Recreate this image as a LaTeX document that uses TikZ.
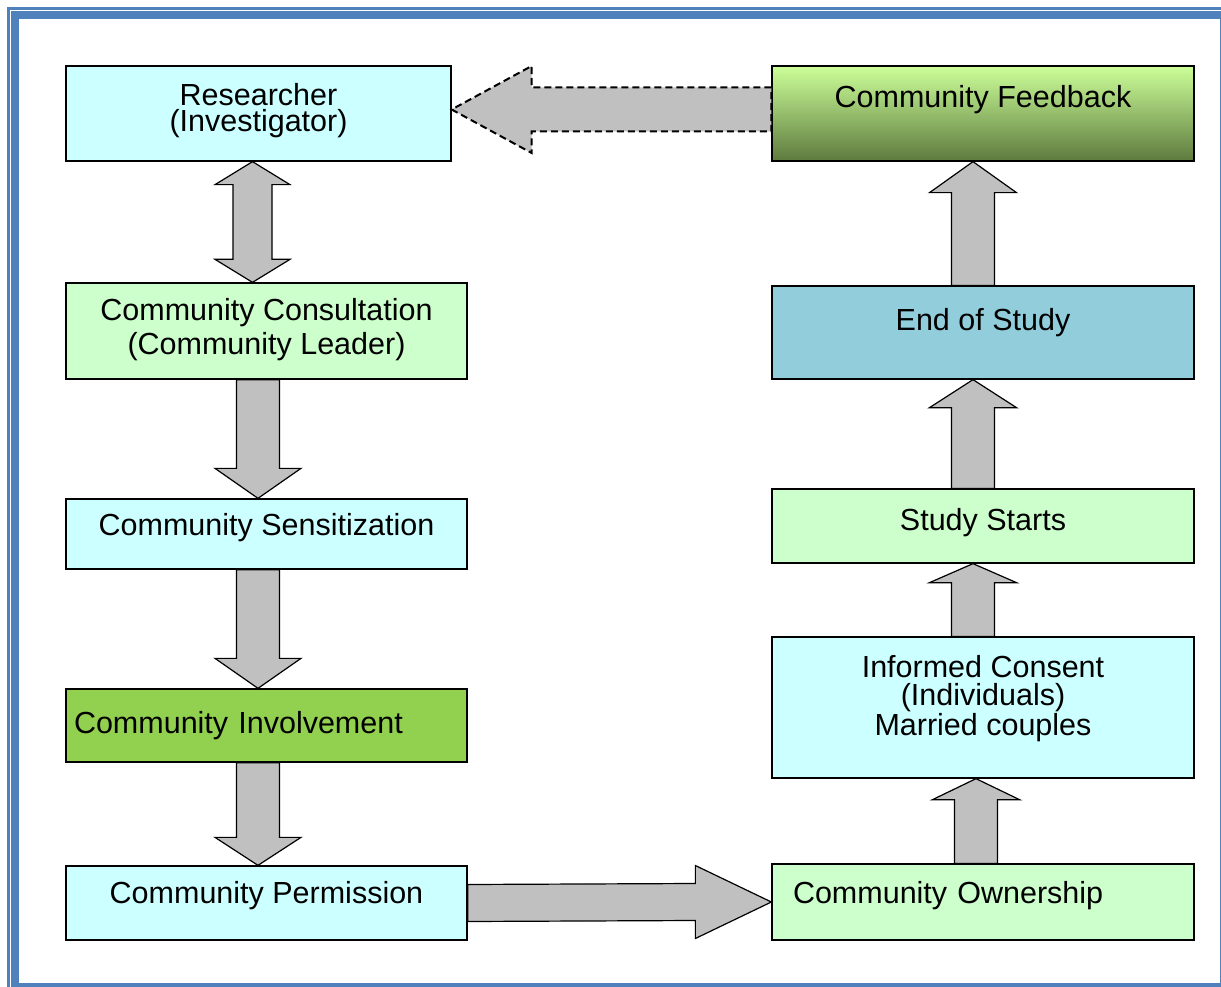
\documentclass[tikz,border=0pt]{standalone}
\usepackage{fontspec}
\setmainfont{Liberation Sans}
\usetikzlibrary{calc}

\definecolor{framecol}{HTML}{4F81BD}
\definecolor{boxcyan}{HTML}{CCFFFF}
\definecolor{boxgreen}{HTML}{CCFFCC}
\definecolor{boxleaf}{HTML}{92D050}
\definecolor{boxteal}{HTML}{92CDDC}
\definecolor{fbtop}{HTML}{CCFF99}
\definecolor{fbbot}{HTML}{5E7A3E}
\definecolor{arrowgray}{HTML}{C0C0C0}

\tikzset{
  box/.style={shape=rectangle,draw=black,line width=1.3pt,inner sep=0pt,align=center,
    font=\fontsize{30.5}{28}\selectfont},
  blockarrow/.style={draw=black,fill=arrowgray,line width=1.2pt,line join=miter},
  arrowdown/.style={blockarrow,to path={
    ($(\tikztostart)+(-21.5,0)$) -- ($(\tikztotarget)+(-21.5,-#1)$) -- ($(\tikztotarget)+(-43,-#1)$)
    -- (\tikztotarget) -- ($(\tikztotarget)+(43,-#1)$) -- ($(\tikztotarget)+(21.5,-#1)$)
    -- ($(\tikztostart)+(21.5,0)$) -- cycle}},
  arrowup/.style={blockarrow,to path={
    ($(\tikztostart)+(-21.5,0)$) -- ($(\tikztotarget)+(-21.5,#1)$) -- ($(\tikztotarget)+(-43.5,#1)$)
    -- (\tikztotarget) -- ($(\tikztotarget)+(43.5,#1)$) -- ($(\tikztotarget)+(21.5,#1)$)
    -- ($(\tikztostart)+(21.5,0)$) -- cycle}},
  arrowboth/.style={blockarrow,to path={
    (\tikztostart) -- ($(\tikztostart)+(37.5,#1)$) -- ($(\tikztostart)+(19.5,#1)$)
    -- ($(\tikztotarget)+(19.5,-#1)$) -- ($(\tikztotarget)+(37.5,-#1)$) -- (\tikztotarget)
    -- ($(\tikztotarget)+(-37.5,-#1)$) -- ($(\tikztotarget)+(-19.5,-#1)$)
    -- ($(\tikztostart)+(-19.5,#1)$) -- ($(\tikztostart)+(-37.5,#1)$) -- cycle}},
  arrowright/.style={blockarrow,to path={
    ($(\tikztostart)+(0,-18.5)$) -- ($(\tikztotarget)+(-#1,-18.5)$) -- ($(\tikztotarget)+(-#1,-36.5)$)
    -- (\tikztotarget) -- ($(\tikztotarget)+(-#1,36.5)$) -- ($(\tikztotarget)+(-#1,18.5)$)
    -- ($(\tikztostart)+(0,18.5)$) -- cycle}},
  arrowleft/.style={blockarrow,to path={
    ($(\tikztostart)+(0,-22)$) -- ($(\tikztotarget)+(#1,-22)$) -- ($(\tikztotarget)+(#1,-43.5)$)
    -- (\tikztotarget) -- ($(\tikztotarget)+(#1,43.5)$) -- ($(\tikztotarget)+(#1,22)$)
    -- ($(\tikztostart)+(0,22)$) -- cycle}}
}

\begin{document}
\begin{tikzpicture}[x=1pt,y=-1pt]
\useasboundingbox (0,0) rectangle (1221,987);
\fill[white] (0,0) rectangle (1221,987);
\draw[framecol,line width=3pt] (8.5,8.5) rectangle (1240,1000);
\draw[framecol,line width=8pt] (15,15) rectangle (1224,987);

\node[box,fill=boxcyan,minimum width=385,minimum height=95,text depth=13pt] (res) at (258.5,113.5) {Researcher\\[-2pt](Investigator)};
\node[box,fill=boxgreen,minimum width=401,minimum height=96,text depth=9.5pt] (cons) at (266.5,331) {Community Consultation\\[4pt](Community Leader)};
\node[box,fill=boxcyan,minimum width=401,minimum height=70,text depth=18.5pt] (sens) at (266.5,534) {Community Sensitization};
\node[box,fill=boxleaf,minimum height=73,inner xsep=8pt,text width=385pt,align=left] (inv) at (266.5,725.5) {Community Involvement};
\node[box,fill=boxcyan,minimum width=401,minimum height=74,text depth=20.5pt] (perm) at (266.5,903) {Community Permission};

\node[box,top color=fbtop,bottom color=fbbot,minimum width=422,minimum height=95,
  label={[anchor=center,yshift=-34pt,font=\fontsize{30.5}{28}\selectfont]north:Community Feedback}] (fb) at (983,113.5) {};
\node[box,fill=boxteal,minimum width=422,minimum height=93,text depth=26pt] (eos) at (983,332.5) {End of Study};
\node[box,fill=boxgreen,minimum width=422,minimum height=74,text depth=12.5pt] (ss) at (983,526) {Study Starts};
\node[box,fill=boxcyan,minimum width=422,minimum height=141,text depth=24.5pt] (ic) at (983,707.5) {Informed Consent\\(Individuals)\\Married couples};
\node[box,fill=boxgreen,minimum height=76,inner xsep=21pt,text width=380pt,align=left,text depth=18.5pt] (own) at (983,902) {Community Ownership};

\coordinate (dax) at (252.5,0);
\coordinate (lax) at (258,0);
\coordinate (rax) at (973,0);
\coordinate (oax) at (976,0);
\coordinate (tax) at (0,109.5);

\draw[arrowboth=23] (res.south -| dax) to (cons.north -| dax);
\draw[arrowdown=30] (cons.south -| lax) to (sens.north -| lax);
\draw[arrowdown=30] (sens.south -| lax) to (inv.north -| lax);
\draw[arrowdown=28] (inv.south -| lax) to (perm.north -| lax);
\draw[arrowright=76] (perm.east) to (own.west);
\draw[arrowup=21] (own.north -| oax) to (ic.south -| oax);
\draw[arrowup=19] (ic.north -| rax) to (ss.south -| rax);
\draw[arrowup=28] (ss.north -| rax) to (eos.south -| rax);
\draw[arrowup=31] (eos.north -| rax) to (fb.south -| rax);
\draw[arrowleft=80,dash pattern=on 7pt off 4pt,line width=2pt] (fb.west |- tax) to (res.east |- tax);
\end{tikzpicture}
\end{document}
